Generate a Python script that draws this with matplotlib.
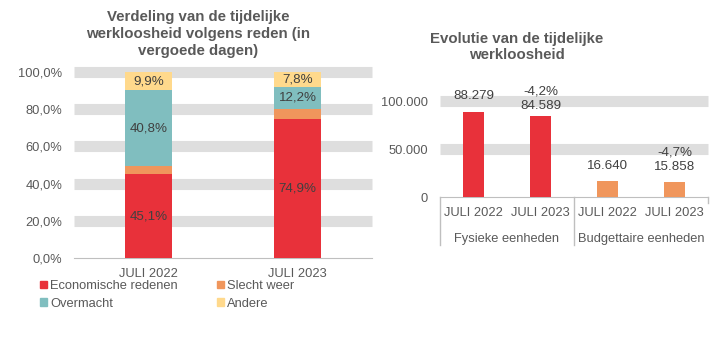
import matplotlib
matplotlib.use("Agg")
import matplotlib.pyplot as plt
import matplotlib.patches as mpatches

plt.rcParams['font.family'] = ['Liberation Sans', 'DejaVu Sans']

# ---------------- data ----------------
left_categories = ["JULI 2022", "JULI 2023"]
economische = [45.1, 74.9]
slecht_weer = [4.2, 5.1]
overmacht = [40.8, 12.2]
andere = [9.9, 7.8]
left_yticks = [0, 20, 40, 60, 80, 100]
left_title = "Verdeling van de tijdelijke\nwerkloosheid volgens reden (in\nvergoede dagen)"

right_categories = ["JULI 2022", "JULI 2023", "JULI 2022", "JULI 2023"]
right_groups = ["Fysieke eenheden", "Budgettaire eenheden"]
right_values = [88279, 84589, 16640, 15858]
right_changes = [None, "-4,2%", None, "-4,7%"]
right_yticks = [0, 50000, 100000]
right_title = "Evolutie van de tijdelijke\nwerkloosheid"

# ---------------- styles ----------------
RED = "#E8313A"
ORANGE = "#F0965C"
TEAL = "#80BEBF"
YELLOW = "#FFD98C"
GRID = "#DEDEDE"
TICK = "#595959"
LABEL = "#404040"
AXIS = "#BFBFBF"
FS = 9.3

W, H = 722, 337
fig = plt.figure(figsize=(W / 100, H / 100), dpi=100)


def px_axes(x0, y_top, x1, y_bot):
    return fig.add_axes([x0 / W, 1 - y_bot / H, (x1 - x0) / W, (y_bot - y_top) / H])


def fmt_pct(v):
    return f"{v:.1f}%".replace(".", ",")


def fmt_thousands(v):
    return f"{int(v):,}".replace(",", ".")


# ---------------- left chart ----------------
ax1 = px_axes(74, 72, 372, 258)
xs = range(len(left_categories))
bw = 0.31
bottom = [0.0] * len(left_categories)
series = [
    ("Economische redenen", economische, RED, True),
    ("Slecht weer", slecht_weer, ORANGE, False),
    ("Overmacht", overmacht, TEAL, True),
    ("Andere", andere, YELLOW, True),
]
handles = {}
for name, vals, col, lab in series:
    ax1.bar(xs, vals, bw, bottom=bottom, color=col, zorder=3, label=name)
    handles[name] = mpatches.Patch(color=col)
    if lab:
        for b, v, b0 in zip(xs, vals, bottom):
            ax1.text(b, b0 + v / 2, fmt_pct(v), ha="center", va="center",
                     fontsize=FS + 0.3, color=LABEL, zorder=4)
    bottom = [a + b for a, b in zip(bottom, vals)]

for y in left_yticks[1:]:
    ax1.axhline(y, color=GRID, lw=8, zorder=0, clip_on=False, solid_capstyle="butt")
ax1.set_ylim(0, 100)
ax1.set_xlim(-0.5, 1.5)
ax1.set_yticks(left_yticks)
ax1.set_yticklabels([fmt_pct(v) for v in left_yticks])
ax1.set_xticks(list(xs))
ax1.set_xticklabels(left_categories)
ax1.tick_params(axis="both", length=0, labelsize=FS, colors=TICK)
ax1.tick_params(axis="y", pad=8.5)
ax1.tick_params(axis="x", pad=7.5)
for s in ["top", "right", "left"]:
    ax1.spines[s].set_visible(False)
ax1.spines["bottom"].set_color(AXIS)
ax1.set_facecolor("none")

fig.text(198 / W, 1 - 34 / H, left_title, ha="center", va="center",
         fontsize=10.8, fontweight="bold", color=TICK, linespacing=1.25)

leg_kw = dict(loc="upper left", frameon=False, fontsize=FS, handlelength=0.55,
              handleheight=0.55, handletextpad=0.25, labelspacing=0.45,
              borderpad=0, borderaxespad=0, labelcolor=TICK)
leg1 = fig.legend([handles["Economische redenen"], handles["Overmacht"]],
                  ["Economische redenen", "Overmacht"],
                  bbox_to_anchor=(40 / W, 1 - 280 / H), **leg_kw)
leg2 = fig.legend([handles["Slecht weer"], handles["Andere"]],
                  ["Slecht weer", "Andere"],
                  bbox_to_anchor=(217 / W, 1 - 280 / H), **leg_kw)

# ---------------- right chart ----------------
ax2 = px_axes(440, 101, 708, 197)
rx = list(range(len(right_values)))
rcols = [RED, RED, ORANGE, ORANGE]
ax2.bar(rx, right_values, 0.31, color=rcols, zorder=3)
label_gap = [10, 4, 9, 9]
for x, v, ch, g in zip(rx, right_values, right_changes, label_gap):
    txt = fmt_thousands(v) if ch is None else f"{ch}\n{fmt_thousands(v)}"
    ax2.annotate(txt, (x, v), xytext=(0, g * 0.72), textcoords="offset points",
                 ha="center", va="bottom", fontsize=FS + 0.3, color=LABEL,
                 linespacing=1.2, annotation_clip=False, zorder=4)

for y in right_yticks[1:]:
    ax2.axhline(y, color=GRID, lw=8, zorder=0, clip_on=False, solid_capstyle="butt")
ax2.set_ylim(0, 100000)
ax2.set_xlim(-0.5, len(rx) - 0.5)
ax2.set_yticks(right_yticks)
ax2.set_yticklabels([fmt_thousands(v) for v in right_yticks])
ax2.set_xticks(rx)
ax2.set_xticklabels(right_categories)
ax2.tick_params(axis="both", length=0, labelsize=FS, colors=TICK)
ax2.tick_params(axis="y", pad=8.5)
ax2.tick_params(axis="x", pad=7.5)
for s in ["top", "right", "left"]:
    ax2.spines[s].set_visible(False)
ax2.spines["bottom"].set_color(AXIS)
ax2.set_facecolor("none")

tr = ax2.get_xaxis_transform()
for xb in [-0.5, 1.5]:
    ax2.plot([xb, xb], [0, -0.5], color=AXIS, lw=1, transform=tr, clip_on=False)
ax2.plot([3.5, 3.5], [0, -0.06], color=AXIS, lw=1, transform=tr, clip_on=False)
for gi, g in enumerate(right_groups):
    ax2.text(gi * 2 + 0.5, -42 / 96, g, transform=tr, ha="center", va="center",
             fontsize=FS, color=TICK)

fig.text(517 / W, 1 - 47 / H, right_title, ha="center", va="center",
         fontsize=10.8, fontweight="bold", color=TICK, linespacing=1.25)

fig.savefig("out.png", dpi=100)
